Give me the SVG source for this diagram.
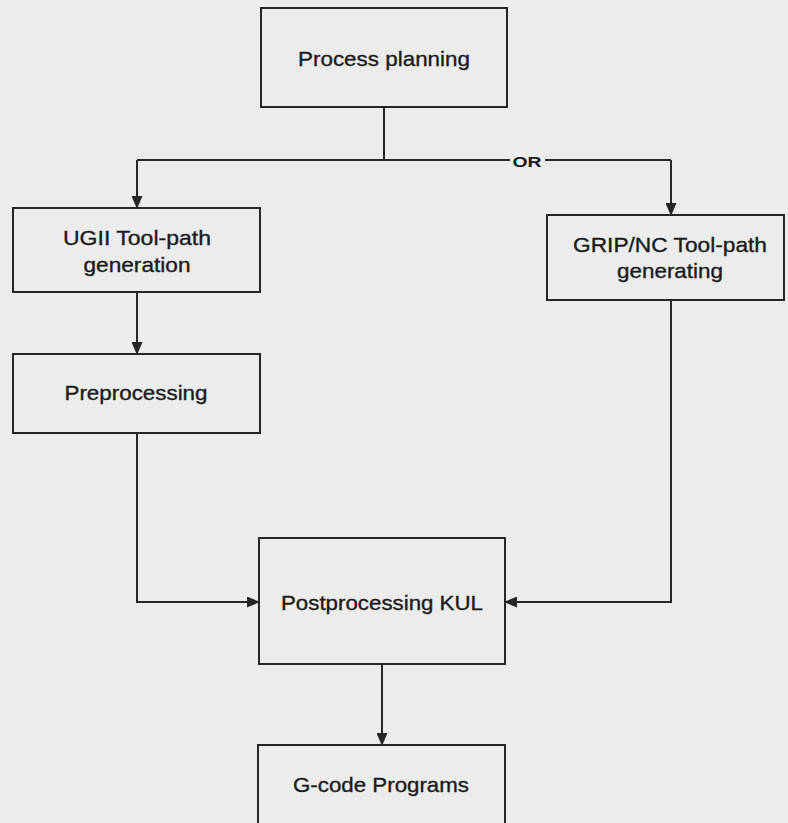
<svg xmlns="http://www.w3.org/2000/svg" width="788" height="823" viewBox="0 0 788 823">
<defs>
<marker id="arr" markerWidth="13" markerHeight="11" refX="12" refY="5.5" orient="auto" markerUnits="userSpaceOnUse">
<path d="M0,0 L13,5.5 L0,11 Z" fill="#262626"/>
</marker>
<style>
.box{fill:none;stroke:#262626;stroke-width:2}
.t{font-family:"Liberation Sans",Arial,sans-serif;font-size:21px;fill:#1a1a1a;stroke:#1a1a1a;stroke-width:0.35;text-anchor:middle}
.c{fill:none;stroke:#262626;stroke-width:2}
.or{font-family:"Liberation Sans",Arial,sans-serif;font-size:14px;font-weight:bold;fill:#1a1a1a;text-anchor:middle}
</style>
</defs>
<rect width="788" height="823" fill="#ececec"/>
<g id="connectors">
<path class="c" d="M384,107 V160"/>
<path class="c" d="M137,160 H510"/>
<path class="c" d="M545,160 H671"/>
<path class="c" d="M137,160 V208" marker-end="url(#arr)"/>
<path class="c" d="M671,160 V215" marker-end="url(#arr)"/>
<path class="c" d="M137,292 V354" marker-end="url(#arr)"/>
<path class="c" d="M137,433 V602 H259" marker-end="url(#arr)"/>
<path class="c" d="M671,300 V602 H505" marker-end="url(#arr)"/>
<path class="c" d="M382,664 V745" marker-end="url(#arr)"/>
<text class="or" x="527" y="167" textLength="29" lengthAdjust="spacingAndGlyphs">OR</text>
</g>
<g id="process-planning">
<rect class="box" x="261" y="8" width="246" height="99"/>
<text class="t" x="384" y="66" textLength="172" lengthAdjust="spacingAndGlyphs">Process planning</text>
</g>
<g id="ugii">
<rect class="box" x="13" y="208" width="247" height="84"/>
<text class="t" x="137" y="245" textLength="148" lengthAdjust="spacingAndGlyphs">UGII Tool-path</text>
<text class="t" x="137" y="272" textLength="107" lengthAdjust="spacingAndGlyphs">generation</text>
</g>
<g id="preprocessing">
<rect class="box" x="13" y="354" width="247" height="79"/>
<text class="t" x="136" y="400" textLength="143" lengthAdjust="spacingAndGlyphs">Preprocessing</text>
</g>
<g id="grip">
<rect class="box" x="547" y="215" width="237" height="85"/>
<text class="t" x="670" y="252" textLength="194" lengthAdjust="spacingAndGlyphs">GRIP/NC Tool-path</text>
<text class="t" x="670" y="278" textLength="106" lengthAdjust="spacingAndGlyphs">generating</text>
</g>
<g id="postprocessing">
<rect class="box" x="259" y="538" width="246" height="126"/>
<text class="t" x="382" y="610" textLength="202" lengthAdjust="spacingAndGlyphs">Postprocessing KUL</text>
</g>
<g id="gcode">
<rect class="box" x="258" y="745" width="247" height="90"/>
<text class="t" x="381" y="792" textLength="176" lengthAdjust="spacingAndGlyphs">G-code Programs</text>
</g>
</svg>
